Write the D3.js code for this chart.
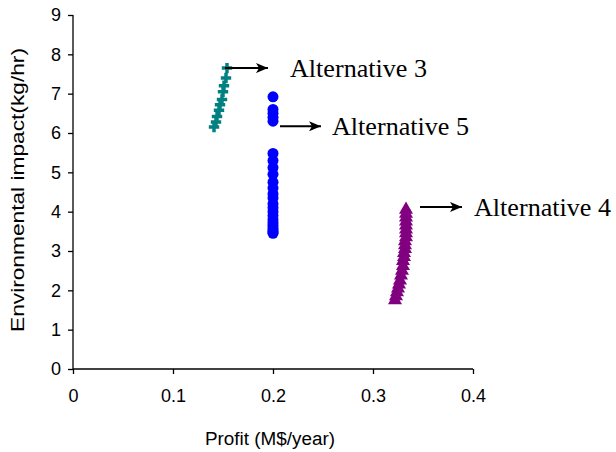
<!DOCTYPE html>
<html>
<head>
<meta charset="utf-8">
<script src="https://cdn.jsdelivr.net/npm/d3@7"></script>
<style>
  body { margin: 0; background: #fff; }
  svg { display: block; }
</style>
</head>
<body>
<script>
// Alternative 3 (teal crosses)
const alt3X = [0.141, 0.143, 0.144, 0.146, 0.147, 0.149, 0.150, 0.151, 0.153, 0.154];
const alt3Y = [6.15, 6.28, 6.42, 6.58, 6.72, 6.85, 7.05, 7.2, 7.4, 7.65];

// Alternative 5 (blue circles)
const alt5X = [0.2, 0.2, 0.2, 0.2, 0.2, 0.2, 0.2, 0.2, 0.2, 0.2, 0.2, 0.2, 0.2, 0.2, 0.2, 0.2, 0.2, 0.2, 0.2, 0.2, 0.2, 0.2, 0.2, 0.2];
const alt5Y = [6.92, 6.6, 6.5, 6.4, 6.3, 5.48, 5.3, 5.12, 4.95, 4.75, 4.6, 4.45, 4.35, 4.2, 4.1, 4.0, 3.9, 3.8, 3.72, 3.65, 3.58, 3.52, 3.48, 3.45];

// Alternative 4 (purple triangles)
const alt4X = [0.322, 0.323, 0.324, 0.325, 0.326, 0.327, 0.328, 0.329, 0.330, 0.330, 0.331, 0.331, 0.332, 0.332, 0.332, 0.333, 0.333, 0.333, 0.333, 0.333, 0.333, 0.333, 0.333];
const alt4Y = [1.75, 1.85, 1.95, 2.05, 2.15, 2.25, 2.38, 2.5, 2.62, 2.75, 2.85, 2.95, 3.05, 3.15, 3.25, 3.35, 3.45, 3.55, 3.65, 3.75, 3.85, 3.95, 4.05];

const xTicks = [0, 0.1, 0.2, 0.3, 0.4];
const yTicks = [0, 1, 2, 3, 4, 5, 6, 7, 8, 9];

const labels = [
  { text: "Alternative 3", x0: 0.152, x1: 0.195, y: 7.65, tx: 0.217 },
  { text: "Alternative 5", x0: 0.207, x1: 0.248, y: 6.17, tx: 0.259 },
  { text: "Alternative 4", x0: 0.347, x1: 0.389, y: 4.12, tx: 0.401 }
];

const width = 616, height = 452;
const margin = { top: 15, left: 73, right: 143, bottom: 83 };

const svg = d3.select("body").append("svg")
  .attr("width", width)
  .attr("height", height);

const x = d3.scaleLinear().domain([0, 0.4]).range([margin.left, width - margin.right]);
const y = d3.scaleLinear().domain([0, 9]).range([height - margin.bottom, margin.top]);

svg.append("defs").append("marker")
  .attr("id", "arrow")
  .attr("viewBox", "0 0 12 10")
  .attr("refX", 12).attr("refY", 5)
  .attr("markerWidth", 12).attr("markerHeight", 10)
  .attr("markerUnits", "userSpaceOnUse")
  .attr("orient", "auto")
  .append("path")
  .attr("d", "M0,0 L12,5 L0,10 L3,5 Z")
  .attr("fill", "#000");

// axes
const xAxis = svg.append("g")
  .attr("transform", `translate(0,${y(0)})`)
  .call(d3.axisBottom(x).tickValues(xTicks).tickSize(5).tickPadding(15)
    .tickFormat(d => d === 0 ? "0" : d3.format(".1f")(d)));
const yAxis = svg.append("g")
  .attr("transform", `translate(${x(0)},0)`)
  .call(d3.axisLeft(y).tickValues(yTicks).tickSize(5).tickPadding(7));

[xAxis, yAxis].forEach(g => {
  g.select(".domain").attr("stroke", "#000").attr("stroke-width", 1.3);
  g.selectAll(".tick line").attr("stroke", "#000").attr("stroke-width", 1.3);
  g.selectAll("text")
    .attr("fill", "#000")
    .style("font-family", "'Liberation Sans', Arial, sans-serif")
    .style("font-size", "18px");
});
xAxis.select(".domain").attr("d", `M${x(0)},0H${x(0.4)}`);
yAxis.select(".domain").attr("d", `M0,${y(9)}V${y(0)}`);

svg.append("text")
  .attr("x", x(0.2) - 3)
  .attr("y", 445)
  .attr("text-anchor", "middle")
  .attr("textLength", 130)
  .attr("lengthAdjust", "spacingAndGlyphs")
  .style("font-family", "'Liberation Sans', Arial, sans-serif")
  .style("font-size", "18px")
  .text("Profit (M$/year)");

svg.append("text")
  .attr("transform", `translate(24,${y(4.5) - 2}) rotate(-90)`)
  .attr("text-anchor", "middle")
  .attr("textLength", 284)
  .attr("lengthAdjust", "spacingAndGlyphs")
  .style("font-family", "'Liberation Sans', Arial, sans-serif")
  .style("font-size", "18px")
  .text("Environmental impact(kg/hr)");

// Alternative 3
const alt3 = alt3X.map((v, i) => [v, alt3Y[i]]);
svg.append("path")
  .datum(alt3)
  .attr("fill", "none")
  .attr("stroke", "#008080")
  .attr("stroke-width", 1.5)
  .attr("d", d3.line().x(d => x(d[0])).y(d => y(d[1])));
svg.append("g").selectAll("path")
  .data(alt3)
  .join("path")
  .attr("transform", d => `translate(${x(d[0])},${y(d[1])})`)
  .attr("d", d3.symbol(d3.symbolCross, 60))
  .attr("fill", "#008080");

// Alternative 5
svg.append("g").selectAll("circle")
  .data(alt5X.map((v, i) => [v, alt5Y[i]]))
  .join("circle")
  .attr("cx", d => x(d[0]))
  .attr("cy", d => y(d[1]))
  .attr("r", 5.5)
  .attr("fill", "#0000ff");

// Alternative 4
svg.append("g").selectAll("path")
  .data(alt4X.map((v, i) => [v, alt4Y[i]]))
  .join("path")
  .attr("transform", d => `translate(${x(d[0])},${y(d[1])})`)
  .attr("d", d3.symbol(d3.symbolTriangle, 85))
  .attr("fill", "#800080");

// annotations
labels.forEach(l => {
  svg.append("line")
    .attr("x1", x(l.x0)).attr("x2", x(l.x1))
    .attr("y1", y(l.y)).attr("y2", y(l.y))
    .attr("stroke", "#000")
    .attr("stroke-width", 2)
    .attr("marker-end", "url(#arrow)");
  svg.append("text")
    .attr("x", x(l.tx))
    .attr("y", y(l.y) + 9)
    .attr("textLength", 137)
    .attr("lengthAdjust", "spacingAndGlyphs")
    .style("font-family", "'Liberation Serif', 'Times New Roman', serif")
    .style("font-size", "25px")
    .text(l.text);
});
</script>
</body>
</html>
